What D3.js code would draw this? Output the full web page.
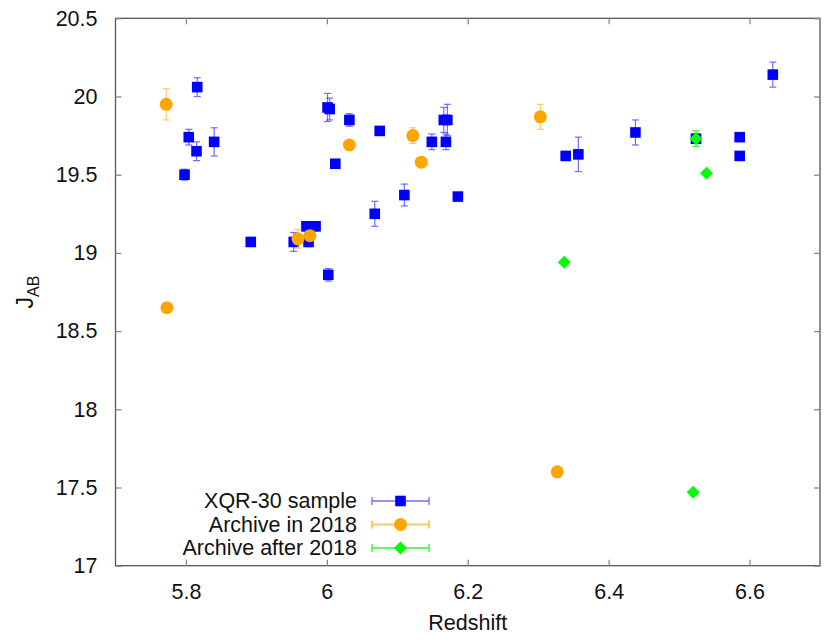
<!DOCTYPE html>
<html>
<head>
<meta charset="utf-8">
<script src="https://cdn.jsdelivr.net/npm/d3@7"></script>
<style>
  body { margin: 0; background: #fff; }
  svg { font-family: "Liberation Sans", Arial, sans-serif; }
</style>
</head>
<body>
<svg id="chart" width="830" height="642"></svg>
<script>
// XQR-30 sample (blue squares)
const xqrZ   = [5.816, 5.804, 5.815, 5.840, 5.798, 5.892, 5.953, 5.974, 5.971, 5.984,
                6.002, 6.001, 6.004, 6.032, 6.012, 6.075, 6.149, 6.169, 6.166, 6.171,
                6.110, 6.068, 6.186, 6.339, 6.357, 6.438, 6.524, 6.586, 6.586, 6.633];
const xqrJ   = [20.06, 19.74, 19.65, 19.71, 19.50, 19.07, 19.07, 19.07, 19.17, 19.17,
                18.86, 19.93, 19.92, 19.85, 19.57, 19.78, 19.71, 19.71, 19.85, 19.85,
                19.37, 19.25, 19.36, 19.62, 19.63, 19.77, 19.73, 19.74, 19.62, 20.14];
const xqrErr = [0.06, 0.05, 0.06, 0.09, 0.035, 0.02, 0.06, 0.03, 0.03, 0.03,
                0.04, 0.09, 0.07, 0.04, 0.01, 0.02, 0.05, 0.05, 0.08, 0.10,
                0.07, 0.08, 0.01, 0.02, 0.11, 0.08, 0.03, 0.02, 0.01, 0.08];

// Archive in 2018 (orange circles)
const arcZ   = [5.772, 5.773, 5.959, 5.976, 6.032, 6.122, 6.134, 6.303, 6.327];
const arcJ   = [19.95, 18.65, 19.09, 19.11, 19.69, 19.75, 19.58, 19.87, 17.60];
const arcErr = [0.10, 0.0, 0.06, 0.03, 0.01, 0.05, 0.02, 0.08, 0.0];

// Archive after 2018 (green diamonds)
const newZ   = [6.337, 6.524, 6.539, 6.520];
const newJ   = [18.94, 19.73, 19.51, 17.47];
const newErr = [0.0, 0.05, 0.0, 0.0];

const xTicks = [5.8, 6.0, 6.2, 6.4, 6.6];
const yTicks = [17, 17.5, 18, 18.5, 19, 19.5, 20, 20.5];

const svg = d3.select("#chart");
const mLeft = 115.5, mRight = 820, mTop = 18.3, mBottom = 565.7;

const x = d3.scaleLinear().domain([5.7, 6.7]).range([mLeft, mRight]);
const y = d3.scaleLinear().domain([17, 20.5]).range([mBottom, mTop]);

const axisColor = "#555";
const fontSize = 21.5;

// frame
svg.append("rect")
  .attr("x", mLeft).attr("y", mTop)
  .attr("width", mRight - mLeft).attr("height", mBottom - mTop)
  .attr("fill", "none").attr("stroke", axisColor).attr("stroke-width", 1.3);

function styleAxis(g) {
  g.select(".domain").remove();
  g.selectAll(".tick line").attr("stroke", "#888").attr("stroke-width", 1.3);
  g.selectAll(".tick text").attr("fill", "#111").attr("font-size", fontSize)
    .attr("font-family", "Liberation Sans, Arial, sans-serif");
}

svg.append("g").attr("transform", `translate(0,${mBottom})`)
  .call(d3.axisBottom(x).tickValues(xTicks).tickSizeInner(-6).tickPadding(18).tickFormat(d3.format("")))
  .call(styleAxis);
svg.append("g").attr("transform", `translate(0,${mTop})`)
  .call(d3.axisTop(x).tickValues(xTicks).tickSizeInner(-6).tickFormat(""))
  .call(styleAxis);
svg.append("g").attr("transform", `translate(${mLeft},0)`)
  .call(d3.axisLeft(y).tickValues(yTicks).tickSizeInner(-6).tickPadding(18).tickFormat(d3.format("")))
  .call(styleAxis);
svg.append("g").attr("transform", `translate(${mRight},0)`)
  .call(d3.axisRight(y).tickValues(yTicks).tickSizeInner(-6).tickFormat(""))
  .call(styleAxis);

// axis titles
svg.append("text")
  .attr("x", (mLeft + mRight) / 2).attr("y", 630)
  .attr("text-anchor", "middle").attr("font-size", fontSize).attr("fill", "#111")
  .text("Redshift");

const yl = svg.append("text")
  .attr("transform", "translate(33,292) rotate(-90)")
  .attr("text-anchor", "middle").attr("font-size", 23).attr("fill", "#111");
yl.append("tspan").text("J");
yl.append("tspan").attr("font-size", 16).attr("dy", 6).text("AB");

// series definitions
const series = [
  { name: "XQR-30 sample", z: xqrZ, j: xqrJ, e: xqrErr, fill: "#0000ff",
    bar: "#3030ff", barOpacity: 0.7, shape: "square" },
  { name: "Archive in 2018", z: arcZ, j: arcJ, e: arcErr, fill: "#ffa500",
    bar: "#ffb733", barOpacity: 0.75, shape: "circle" },
  { name: "Archive after 2018", z: newZ, j: newJ, e: newErr, fill: "#00ff00",
    bar: "#00ee00", barOpacity: 0.8, shape: "diamond" }
];

function drawSymbol(g, shape, cx, cy, fill) {
  if (shape === "square") {
    g.append("rect").attr("x", cx - 5.3).attr("y", cy - 5.3)
      .attr("width", 10.6).attr("height", 10.6).attr("fill", fill);
  } else if (shape === "circle") {
    g.append("circle").attr("cx", cx).attr("cy", cy).attr("r", 6.5).attr("fill", fill);
  } else {
    g.append("path")
      .attr("d", `M${cx},${cy - 6.5}L${cx + 6.5},${cy}L${cx},${cy + 6.5}L${cx - 6.5},${cy}Z`)
      .attr("fill", fill);
  }
}

const cap = 3.5;
series.forEach(s => {
  const g = svg.append("g");
  s.z.forEach((zv, i) => {
    const cx = x(zv), cy = y(s.j[i]);
    if (s.e[i] > 0) {
      const y1 = y(s.j[i] + s.e[i]), y2 = y(s.j[i] - s.e[i]);
      const eb = g.append("g").attr("stroke", s.bar).attr("stroke-width", 1.2)
        .attr("opacity", s.barOpacity);
      eb.append("line").attr("x1", cx).attr("x2", cx).attr("y1", y1).attr("y2", y2);
      eb.append("line").attr("x1", cx - cap).attr("x2", cx + cap).attr("y1", y1).attr("y2", y1);
      eb.append("line").attr("x1", cx - cap).attr("x2", cx + cap).attr("y1", y2).attr("y2", y2);
    }
    drawSymbol(g, s.shape, cx, cy, s.fill);
  });
});

// legend
const legTextX = 357, legX1 = 372, legX2 = 429, legY0 = 501, legDy = 23.5;
series.forEach((s, i) => {
  const ly = legY0 + i * legDy;
  svg.append("text").attr("x", legTextX).attr("y", ly + 7)
    .attr("text-anchor", "end").attr("font-size", fontSize).attr("fill", "#111")
    .text(s.name);
  const lg = svg.append("g").attr("stroke", s.bar).attr("opacity", s.barOpacity)
    .attr("stroke-width", i === 1 ? 2.2 : 1.3);
  lg.append("line").attr("x1", legX1).attr("x2", legX2).attr("y1", ly).attr("y2", ly);
  lg.append("line").attr("x1", legX1).attr("x2", legX1).attr("y1", ly - 4).attr("y2", ly + 4);
  lg.append("line").attr("x1", legX2).attr("x2", legX2).attr("y1", ly - 4).attr("y2", ly + 4);
  drawSymbol(svg.append("g"), s.shape, (legX1 + legX2) / 2, ly, s.fill);
});
</script>
</body>
</html>
